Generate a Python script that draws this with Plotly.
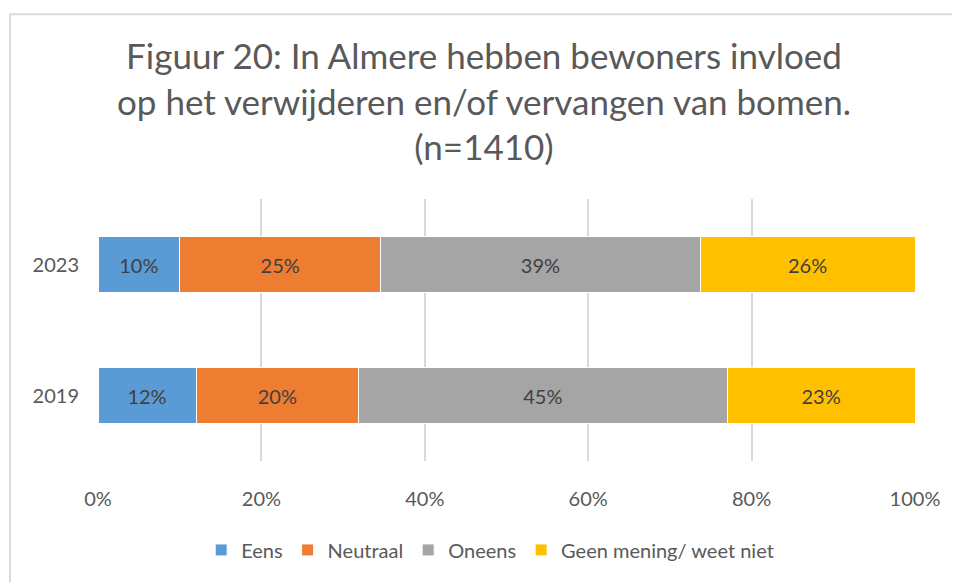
import plotly.graph_objects as go

years = ["2019", "2023"]
series_names = ["Eens", "Neutraal", "Oneens", "Geen mening/ weet niet"]
eens = [12.0, 10.0]
neutraal = [19.9, 24.6]
oneens = [45.1, 39.1]
geen = [23.0, 26.3]
values = [eens, neutraal, oneens, geen]
colors = ["#5B9BD5", "#ED7D31", "#A5A5A5", "#FFC000"]
x_ticks = [0, 20, 40, 60, 80, 100]
x_tick_labels = ["0%", "20%", "40%", "60%", "80%", "100%"]

FONT = "Lato, 'Open Sans', sans-serif"
TXT = "#595959"

fig = go.Figure()
for name, vals, col in zip(series_names, values, colors):
    fig.add_trace(go.Bar(
        y=years, x=vals, name=name, orientation="h",
        marker=dict(color=col, line=dict(color="white", width=1)),
        text=[f"{v:.0f}%" for v in vals],
        textposition="inside", insidetextanchor="middle",
        textfont=dict(family=FONT, size=20, color="#404040"),
        hoverinfo="skip",
    ))

# page body has an 8px margin: figure is drawn from (8, 8)
OFF = 8
W, H = 960 - OFF, 582 - OFF
L, R, T, B = 98 - OFF, 45, 199 - OFF, 582 - 467
PW, PH = W - L - R, H - T - B

fig.update_layout(
    width=W, height=H,
    barmode="stack", bargap=0.58,
    paper_bgcolor="white", plot_bgcolor="white",
    margin=dict(l=L, r=R, t=T, b=B),
    font=dict(family=FONT, color=TXT),
    title=dict(
        text="Figuur 20: In Almere hebben bewoners invloed<br>op het verwijderen en/of vervangen van bomen.<br>(n=1410)",
        x=0.5, xanchor="center", y=1 - 61 / H, yanchor="top",
        font=dict(family=FONT, size=35, color=TXT),
    ),
    xaxis=dict(
        range=[0, 100], tickvals=x_ticks, ticktext=x_tick_labels,
        showgrid=True, gridcolor="#D9D9D9", gridwidth=1.5,
        zeroline=False, showline=False, ticks="",
        ticklabelstandoff=24,
        tickfont=dict(family=FONT, size=20, color=TXT),
        fixedrange=True,
    ),
    yaxis=dict(
        showgrid=False, zeroline=False, showline=False, ticks="",
        ticklabelstandoff=18,
        tickfont=dict(family=FONT, size=20, color=TXT),
        fixedrange=True,
    ),
    legend=dict(
        orientation="h", x=0.48, xanchor="center", y=-(550 - 467 - 12) / PH, yanchor="top",
        font=dict(family=FONT, size=20, color=TXT),
        traceorder="normal", itemwidth=30,
    ),
    showlegend=True,
)

# chart frame (cropped at right and bottom), at page x=10, y=10
fx = (10 - OFF - L) / PW
fy = 1 + (T - (10 - OFF)) / PH
fig.add_shape(type="line", xref="paper", yref="paper",
              x0=fx, x1=1.2, y0=fy, y1=fy,
              line=dict(color="#D9D9D9", width=2))
fig.add_shape(type="line", xref="paper", yref="paper",
              x0=fx, x1=fx, y0=-1, y1=fy,
              line=dict(color="#D9D9D9", width=2))

fig.write_html("out.html")
